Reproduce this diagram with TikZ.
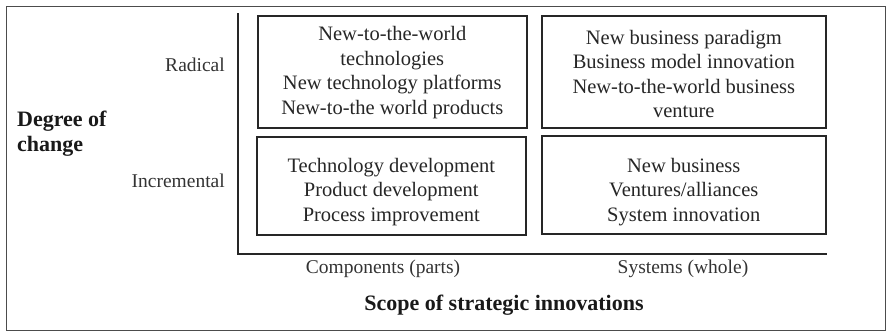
\documentclass[tikz,border=0pt]{standalone}
\usepackage{fontspec}
\setmainfont{Liberation Serif}
\begin{document}
\begin{tikzpicture}[x=1pt,y=-1pt,
  cell/.style={draw=black!85, line width=1.6pt, minimum width=#1, anchor=north west, inner sep=0pt},
  celltext/.style={align=center, font=\fontsize{20.5}{24.5}\selectfont, text=black!85, inner sep=0pt},
  lab/.style={font=\fontsize{19.5}{22}\selectfont, text=black!80, inner sep=0pt},
  head/.style={font=\fontsize{22}{25}\selectfont\bfseries, text=black!90, inner sep=0pt, align=left}]
\useasboundingbox (0,0) rectangle (887,332);
\draw[black!70, line width=1pt] (6.5,6.5) rectangle (885.5,330.5);
% axes
\coordinate (ytop) at (238,13);
\coordinate (xend) at (827,254);
\draw[black!85, line width=1.6pt] (ytop) |- (xend);
% boxes
\node[cell=269pt, minimum height=112pt] (tl) at (257,15) {};
\node[cell=269pt, minimum height=98pt] (bl) at (256,136) {};
\node[cell=284pt, minimum height=112pt] (tr) at (541,15) {};
\node[cell=284pt, minimum height=98pt] (br) at (541,135) {};
\node[celltext] (tlt) at ([yshift=-1pt]tl.center) {New-to-the-world\\technologies\\New technology platforms\\New-to-the world products};
\node[celltext] (trt) at ([yshift=-2pt]tr.center) {New business paradigm\\Business model innovation\\New-to-the-world business\\venture};
\node[celltext] (blt) at ([yshift=-6pt]bl.center) {Technology development\\Product development\\Process improvement};
\node[celltext] (brt) at ([yshift=-7pt]br.center) {New business\\Ventures/alliances\\System innovation};
% labels
\node[lab, anchor=east] (rad) at (225,65) {Radical};
\node[lab, anchor=east] (inc) at (225,181) {Incremental};
\node[head, anchor=west] (deg) at (17,134) {Degree of\\change};
\node[lab] (comp) at (383,269) {Components (parts)};
\node[lab] (sys) at (683,269) {Systems (whole)};
\node[head] (scope) at (504,305) {Scope of strategic innovations};
\end{tikzpicture}
\end{document}
